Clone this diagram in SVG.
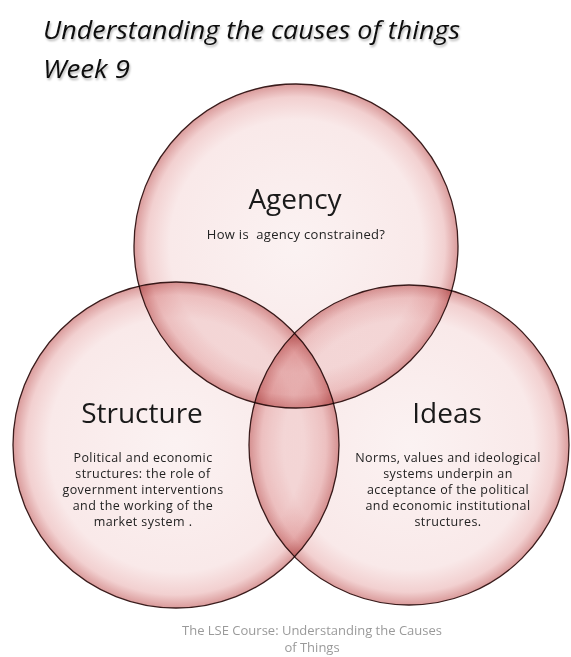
<svg xmlns="http://www.w3.org/2000/svg" width="571" height="657" viewBox="0 0 571 657">
  <defs>
    <radialGradient id="rim" cx="0.5" cy="0.5" r="0.5">
      <stop offset="0" stop-color="#fbf2f2"/>
      <stop offset="0.78" stop-color="#f9e9e9"/>
      <stop offset="0.92" stop-color="#f2d0d0"/>
      <stop offset="1" stop-color="#da9b9b"/>
    </radialGradient>
    <filter id="shadow" x="-5%" y="-30%" width="110%" height="160%">
      <feDropShadow dx="1" dy="2" stdDeviation="1.2" flood-color="#000" flood-opacity="0.3"/>
    </filter>
  </defs>
  <style>
    .circle { fill: url(#rim); stroke: #3a1c1c; stroke-width: 1.3; mix-blend-mode: multiply; }
    .title { font-family: "Open Sans", Lato, sans-serif; font-style: italic; font-size: 25px; fill: #111; }
    .head { font-family: "Open Sans", Lato, sans-serif; font-size: 28px; fill: #1a1a1a; text-anchor: middle; }
    .body { font-family: "Open Sans", Lato, sans-serif; font-size: 12.5px; letter-spacing: 0.4px; fill: #222; text-anchor: middle; }
    .sub { font-family: "Open Sans", Lato, sans-serif; font-size: 13px; letter-spacing: 0.3px; fill: #222; text-anchor: middle; white-space: pre; }
    .foot { font-family: "Open Sans", Lato, sans-serif; font-size: 13px; fill: #9a9a9a; text-anchor: middle; }
  </style>
  <rect width="571" height="657" fill="#ffffff"/>
  <g id="title" filter="url(#shadow)">
    <text class="title" x="43" y="39" textLength="417" lengthAdjust="spacingAndGlyphs">Understanding the causes of things</text>
    <text class="title" x="43" y="78" textLength="87" lengthAdjust="spacingAndGlyphs">Week 9</text>
  </g>
  <g id="circles">
    <circle id="agency-circle" class="circle" cx="296" cy="246" r="162"/>
    <circle id="structure-circle" class="circle" cx="176" cy="445" r="163"/>
    <circle id="ideas-circle" class="circle" cx="409" cy="445" r="160"/>
  </g>
  <g id="agency">
    <text class="head" x="295" y="209">Agency</text>
    <text class="sub" x="296" y="239" xml:space="preserve">How is  agency constrained?</text>
  </g>
  <g id="structure">
    <text class="head" x="142" y="423">Structure</text>
    <text class="body" x="143" y="462">Political and economic</text>
    <text class="body" x="143" y="478">structures: the role of</text>
    <text class="body" x="143" y="494">government interventions</text>
    <text class="body" x="143" y="510">and the working of the</text>
    <text class="body" x="143" y="526">market system .</text>
  </g>
  <g id="ideas">
    <text class="head" x="447" y="423">Ideas</text>
    <text class="body" x="448" y="462">Norms, values and ideological</text>
    <text class="body" x="448" y="478">systems underpin an</text>
    <text class="body" x="448" y="494">acceptance of the political</text>
    <text class="body" x="448" y="510">and economic institutional</text>
    <text class="body" x="448" y="526">structures.</text>
  </g>
  <g id="footer">
    <text class="foot" x="312" y="635">The LSE Course: Understanding the Causes</text>
    <text class="foot" x="312" y="652">of Things</text>
  </g>
</svg>
